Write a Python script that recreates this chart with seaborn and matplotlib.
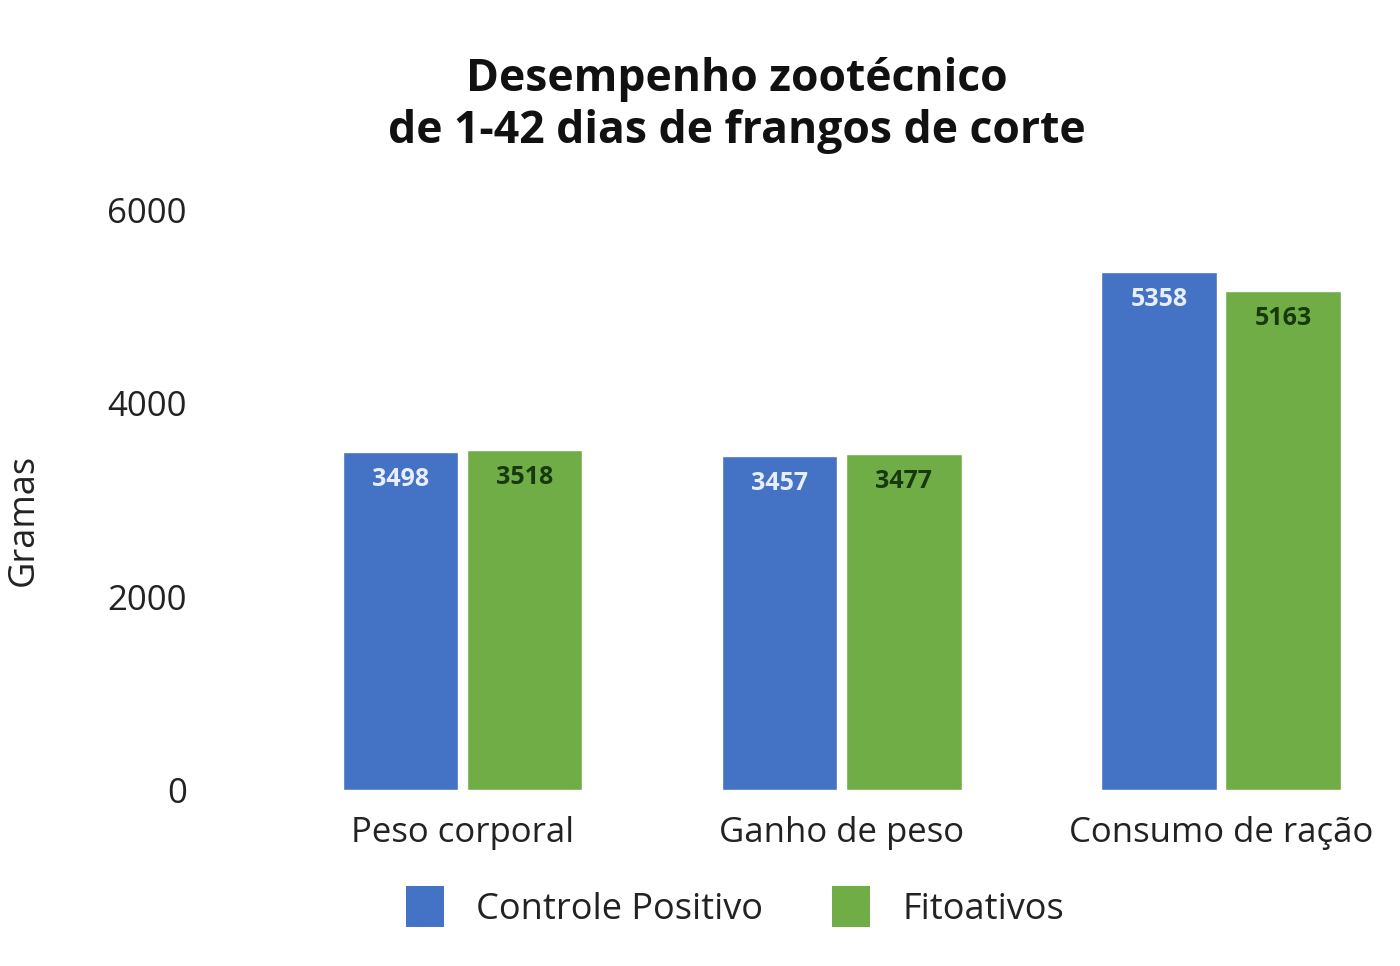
import matplotlib
matplotlib.use("Agg")
import matplotlib.pyplot as plt
import seaborn as sns
import pandas as pd
from matplotlib.patches import Patch

categories = ["Peso corporal", "Ganho de peso", "Consumo de ração"]
series_names = ["Controle Positivo", "Fitoativos"]
controle = [3498, 3457, 5358]
fitoativos = [3518, 3477, 5163]
colors = ["#4472C4", "#70AD47"]
label_colors = ["#E8EEFF", "#173A0C"]

df = pd.DataFrame({
    "cat": categories * 2,
    "serie": [series_names[0]] * 3 + [series_names[1]] * 3,
    "val": controle + fitoativos,
})

sns.set_theme(style="white")
plt.rcParams["font.family"] = ["Open Sans", "DejaVu Sans"]

fig = plt.figure(figsize=(14, 9.66), dpi=100)
ax = fig.add_axes([273 / 1400, 1 - 790 / 966, (1395 - 273) / 1400, (790 - 210) / 966])

sns.barplot(data=df, x="cat", y="val", hue="serie", palette=colors,
            width=0.655, gap=0.07, ax=ax, legend=False, saturation=1)

ax.set_xlim(-0.5, (1395 - 463) / 379)
ax.set_ylim(0, 6000)
ax.set_yticks([0, 2000, 4000, 6000])
ax.tick_params(axis="y", labelsize=25, pad=62, length=0, colors="#222222")
ax.tick_params(axis="x", labelsize=25, pad=19, length=0, colors="#222222")
for s in ax.spines.values():
    s.set_visible(False)
ax.set_xlabel("")
ax.set_ylabel("")
fig.text(24 / 1400, 1 - 520 / 966, "Gramas", rotation=90, ha="center", va="center",
         fontsize=26, color="#222222")

for i, cont in enumerate(ax.containers):
    for bar, v in zip(cont, controle if i == 0 else fitoativos):
        ax.annotate(str(v), (bar.get_x() + bar.get_width() / 2, bar.get_height()),
                    xytext=(0, -20), textcoords="offset points",
                    ha="center", va="center", fontsize=18, fontweight="bold",
                    color=label_colors[i])

fig.text(0.526, 0.891, "Desempenho zootécnico\nde 1-42 dias de frangos de corte",
         ha="center", va="center", fontsize=32, fontweight="bold",
         color="#111111", linespacing=1.2)

handles = [Patch(facecolor=c, edgecolor="none") for c in colors]
fig.legend(handles, series_names, loc="center", bbox_to_anchor=(0.525, 0.061),
           ncol=2, frameon=False, fontsize=26, handlelength=1.05, handleheight=1.35,
           handletextpad=0.9, columnspacing=1.9, labelcolor="#222222")

fig.savefig("out.png", dpi=100, facecolor="white")
